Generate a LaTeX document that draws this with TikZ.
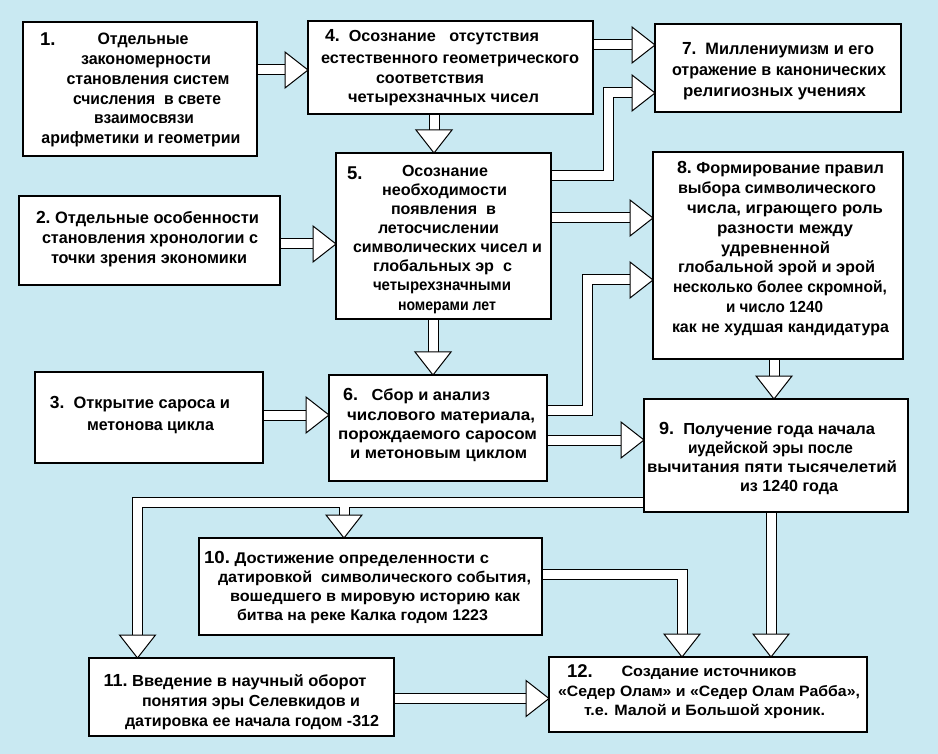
\documentclass[tikz,border=0pt]{standalone}
\usepackage{fontspec}
\setmainfont{Liberation Sans}
\usepackage{graphicx}
\usetikzlibrary{calc}
\definecolor{bgc}{RGB}{201,233,242}
\newsavebox\fitbox
\newlength\fitlen
\newcommand\fitw[2]{\sbox\fitbox{#2}\setlength\fitlen{\wd\fitbox}\pgfmathsetmacro\fitr{#1/\fitlen}\scalebox{\fitr}[1]{\usebox\fitbox}}
\newcommand\nf{\fontsize{17.5}{20}\selectfont\bfseries}
\newcommand\hr[1]{\draw[headst] (#1) -- ++(-23,-18) -- ++(0,36) -- cycle;}
\newcommand\hd[1]{\draw[headst] (#1) -- ++(-18,-23) -- ++(36,0) -- cycle;}
\newcommand\allshafts[1]{%
 \draw[#1, shorten >=12pt] (b1.east |- 0,70) -- (b4.west |- 0,70);
 \draw[#1, shorten >=12pt] (b4.east |- 0,45) -- (b7.west |- 0,45);
 \draw[#1, shorten >=12pt] (b5.east |- 0,176) -| (608,93) -- (b7.west |- 0,93);
 \draw[#1, shorten >=12pt] (434,0 |- b4.south) -- (434,0 |- b5.north);
 \draw[#1, shorten >=12pt] (b2.east |- 0,244) -- (b5.west |- 0,244);
 \draw[#1, shorten >=12pt] (b5.east |- 0,218) -- (b8.west |- 0,218);
 \draw[#1, shorten >=12pt] (b6.east |- 0,410) -| (587,280) -- (b8.west |- 0,280);
 \draw[#1, shorten >=12pt] (433,0 |- b5.south) -- (433,0 |- b6.north);
 \draw[#1, shorten >=12pt] (b3.east |- 0,415) -- (b6.west |- 0,415);
 \draw[#1, shorten >=12pt] (b6.east |- 0,440) -- (b9.west |- 0,440);
 \draw[#1, shorten >=12pt] (774,0 |- b8.south) -- (774,0 |- b9.north);
 \draw[#1, shorten >=12pt] (b9.west |- 0,502) -| (137.5,0 |- b11.north);
 \draw[#1, shorten >=12pt] (j) -- (344,0 |- b10.north);
 \draw[#1, shorten >=12pt] (771,0 |- b9.south) -- (771,0 |- b12.north);
 \draw[#1, shorten >=12pt] (b10.east |- 0,574) -| (682,0 |- b12.north);
 \draw[#1, shorten >=12pt] (b11.east |- 0,698.5) -- (b12.west |- 0,698.5);
}
\begin{document}
\begin{tikzpicture}[x=1pt,y=-1pt,
 box/.style={draw=black, line width=1.3pt, fill=white, inner sep=0pt, outer sep=0pt},
 txt/.style={inner sep=0pt, outer sep=0pt, anchor=base, font=\fontsize{#1}{#1}\selectfont\bfseries},
 numl/.style={inner sep=0pt, outer sep=0pt, anchor=base west, font=\fontsize{18.5}{20}\selectfont\bfseries},
 sho/.style={line width=11pt, draw=black, line join=miter},
 shi/.style={line width=9pt, draw=white, line join=miter},
 headst/.style={draw=black, fill=white, line width=1pt, line join=miter}]
\useasboundingbox (0,0) rectangle (938,754);
\fill[bgc] (0,0) rectangle (938,754);
% box placeholders for anchors
\path
 (140,89) node[minimum width=234pt, minimum height=134pt, inner sep=0pt, outer sep=0pt] (b1) {}
 (149.5,240.5) node[minimum width=261pt, minimum height=89pt, inner sep=0pt, outer sep=0pt] (b2) {}
 (149,417.5) node[minimum width=228pt, minimum height=91pt, inner sep=0pt, outer sep=0pt] (b3) {}
 (450.5,67.5) node[minimum width=285pt, minimum height=93pt, inner sep=0pt, outer sep=0pt] (b4) {}
 (443.5,236) node[minimum width=215pt, minimum height=166pt, inner sep=0pt, outer sep=0pt] (b5) {}
 (438,428) node[minimum width=218pt, minimum height=106pt, inner sep=0pt, outer sep=0pt] (b6) {}
 (778,68) node[minimum width=246pt, minimum height=88pt, inner sep=0pt, outer sep=0pt] (b7) {}
 (778,255.5) node[minimum width=250pt, minimum height=207pt, inner sep=0pt, outer sep=0pt] (b8) {}
 (776,455.5) node[minimum width=264pt, minimum height=113pt, inner sep=0pt, outer sep=0pt] (b9) {}
 (370.5,586.5) node[minimum width=343pt, minimum height=97pt, inner sep=0pt, outer sep=0pt] (b10) {}
 (241.5,697) node[minimum width=305pt, minimum height=78pt, inner sep=0pt, outer sep=0pt] (b11) {}
 (708,694.5) node[minimum width=318pt, minimum height=75pt, inner sep=0pt, outer sep=0pt] (b12) {};
\coordinate (j) at (344,502);
% connectors
\allshafts{sho}
\allshafts{shi}
% boxes drawn over shaft ends
\foreach \b in {b1,b2,b3,b4,b5,b6,b7,b8,b9,b10,b11,b12}
  \draw[box] (\b.north west) rectangle (\b.south east);
% arrow heads
\hr{b4.west |- 0,70}
\hr{b7.west |- 0,45}
\hr{b7.west |- 0,93}
\hd{434,0 |- b5.north}
\hr{b5.west |- 0,244}
\hr{b8.west |- 0,218}
\hr{b8.west |- 0,280}
\hd{433,0 |- b6.north}
\hr{b6.west |- 0,415}
\hr{b9.west |- 0,440}
\hd{774,0 |- b9.north}
\hd{137.5,0 |- b11.north}
\hd{344,0 |- b10.north}
\hd{771,0 |- b12.north}
\hd{682,0 |- b12.north}
\hr{b12.west |- 0,698.5}
% box 1
\node[numl] (n1) at (40,46) {1.};
\node[txt=16.5] (t1a) at (143,45) {\fitw{91}{Отдельные}};
\node[txt=16.5] (t1b) at (146,64.7) {\fitw{130}{закономерности}};
\node[txt=16.5] (t1c) at (148,84.4) {\fitw{163}{становления систем}};
\node[txt=16.5] (t1d) at (147,104.1) {\fitw{148}{счисления\ \ в свете}};
\node[txt=16.5] (t1e) at (144,123.8) {\fitw{100}{взаимосвязи}};
\node[txt=16.5] (t1f) at (141,143.5) {\fitw{199}{арифметики и геометрии}};
% box 2
\node[txt=16.5] (t2a) at (147.5,223.3) {\fitw{223}{{\nf 2.}\ Отдельные особенности}};
\node[txt=16.5] (t2b) at (150,243.8) {\fitw{216}{становления хронологии с}};
\node[txt=16.5] (t2c) at (149,264) {\fitw{196}{точки зрения экономики}};
% box 3
\node[txt=16.5] (t3a) at (140,408.3) {\fitw{180}{{\nf 3.}\ \ Открытие сароса и}};
\node[txt=16.5] (t3b) at (150.5,430.7) {\fitw{127}{метонова цикла}};
% box 4
\node[txt=16] (t4a) at (432,41.7) {\fitw{214}{{\nf 4.}\ \ Осознание\ \ \ отсутствия}};
\node[txt=16] (t4b) at (450,63.3) {\fitw{258}{естественного геометрического}};
\node[txt=16] (t4c) at (430,83.3) {\fitw{108}{соответствия}};
\node[txt=16] (t4d) at (443.5,102.7) {\fitw{191}{четырехзначных чисел}};
% box 5
\node[numl] (n5) at (347,179.5) {5.};
\node[txt=16] (t5a) at (445,176.7) {\fitw{86}{Осознание}};
\node[txt=16] (t5b) at (444.5,195.75) {\fitw{125}{необходимости}};
\node[txt=16] (t5c) at (443.5,214.8) {\fitw{105}{появления\ \ в}};
\node[txt=16] (t5d) at (438.5,233.85) {\fitw{121}{летосчислении}};
\node[txt=16] (t5e) at (447.5,252.9) {\fitw{189}{символических чисел и}};
\node[txt=16] (t5f) at (442.5,271.95) {\fitw{139}{глобальных эр\ \ с}};
\node[txt=16] (t5g) at (442,291) {\fitw{138}{четырехзначными}};
\node[txt=16] (t5h) at (447,310.05) {\fitw{98}{номерами лет}};
% box 6
\node[txt=16] (t6a) at (416.5,400.7) {\fitw{147}{{\nf 6.}\ \ \ Сбор и анализ}};
\node[txt=16] (t6b) at (441,420.1) {\fitw{188}{числового материала,}};
\node[txt=16] (t6c) at (437.5,439.5) {\fitw{199}{порождаемого саросом}};
\node[txt=16] (t6d) at (438.5,458.9) {\fitw{177}{и метоновым циклом}};
% box 7
\node[txt=16.5] (t7a) at (778,55) {\fitw{192}{{\nf 7.}\ \ Миллениумизм и его}};
\node[txt=16.5] (t7b) at (779,75.8) {\fitw{214}{отражение в канонических}};
\node[txt=16.5] (t7c) at (774.5,96.6) {\fitw{183}{религиозных учениях}};
% box 8
\node[txt=16] (t8a) at (780.5,174) {\fitw{207}{{\nf 8.}\ Формирование правил}};
\node[txt=16] (t8b) at (777,193.8) {\fitw{198}{выбора символического}};
\node[txt=16] (t8c) at (785,213.6) {\fitw{196}{числа, играющего роль}};
\node[txt=16] (t8d) at (785,233.4) {\fitw{136}{разности между}};
\node[txt=16] (t8e) at (775.5,253.2) {\fitw{109}{удревненной}};
\node[txt=16] (t8f) at (776.5,273) {\fitw{197}{глобальной эрой и эрой}};
\node[txt=16] (t8g) at (780,292.8) {\fitw{214}{несколько более скромной,}};
\node[txt=16] (t8h) at (774.5,312.6) {\fitw{97}{и число 1240}};
\node[txt=16] (t8i) at (780.5,332.4) {\fitw{217}{как не худшая кандидатура}};
% box 9
\node[txt=16] (t9a) at (767,434.3) {\fitw{216}{{\nf 9.}\ \ Получение года начала}};
\node[txt=16] (t9b) at (770.5,453.3) {\fitw{165}{иудейской эры после}};
\node[txt=16] (t9c) at (772,472.5) {\fitw{250}{вычитания пяти тысячелетий}};
\node[txt=16] (t9d) at (789,491.5) {\fitw{98}{из 1240 года}};
% box 10
\node[txt=15.5] (t10a) at (346.5,563.3) {\fitw{285}{{\nf 10.}\ Достижение определенности с}};
\node[txt=15.5] (t10b) at (374.5,582.2) {\fitw{313}{датировкой\ \ символического события,}};
\node[txt=15.5] (t10c) at (375,601.1) {\fitw{290}{вошедшего в мировую историю как}};
\node[txt=15.5] (t10d) at (362.5,620) {\fitw{251}{битва на реке Калка годом 1223}};
% box 11
\node[txt=16] (t11a) at (235,686.7) {\fitw{263}{{\nf 11.}\ Введение в научный оборот}};
\node[txt=16] (t11b) at (251,706.5) {\fitw{218}{понятия эры Селевкидов и}};
\node[txt=16] (t11c) at (252,726) {\fitw{254}{датировка ее начала годом -312}};
% box 12
\node[numl] (n12) at (567,677.3) {12.};
\node[txt=15] (t12a) at (709,676.7) {\fitw{175}{Создание источников}};
\node[txt=15] (t12b) at (709,696) {\fitw{302}{«Седер Олам» и «Седер Олам Рабба»,}};
\node[txt=15] (t12c) at (704.5,715) {\fitw{241}{т.е. Малой и Большой хроник.}};
\end{tikzpicture}
\end{document}
